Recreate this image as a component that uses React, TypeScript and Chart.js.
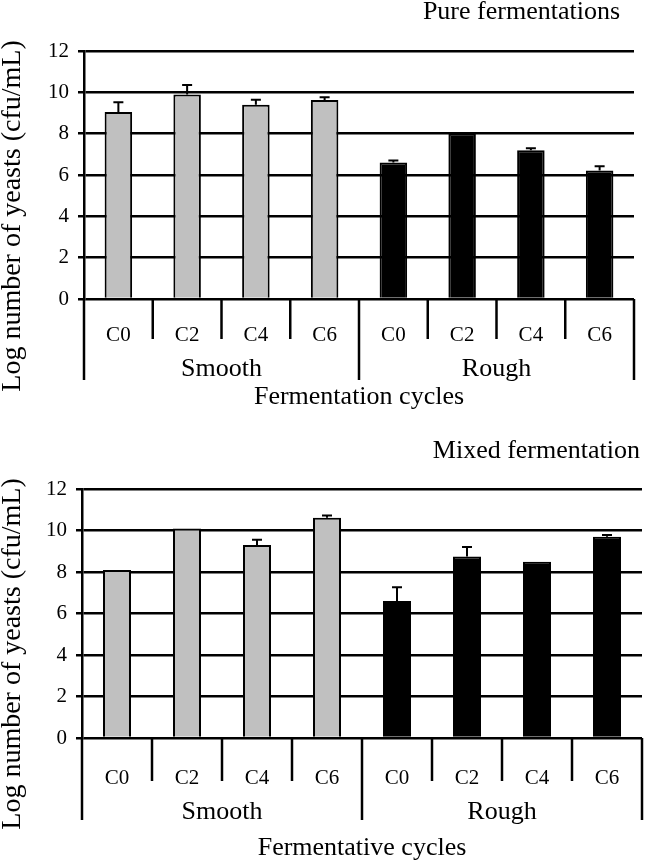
import React, { useEffect, useRef } from 'react';
import { Chart, registerables } from 'chart.js';

Chart.register(...registerables);

const categories = ['C0', 'C2', 'C4', 'C6', 'C0', 'C2', 'C4', 'C6'];
const groups = ['Smooth', 'Rough'];
const yTicks = [0, 2, 4, 6, 8, 10, 12];

const pureValues = [9.05, 9.9, 9.4, 9.63, 6.6, 8.0, 7.2, 6.22];
const pureErrors = [0.47, 0.45, 0.24, 0.13, 0.1, 0, 0.1, 0.2];

const mixedValues = [8.1, 10.1, 9.3, 10.62, 6.6, 8.75, 8.5, 9.7];
const mixedErrors = [0, 0, 0.26, 0.1, 0.67, 0.45, 0, 0.08];

const barColors = ['#c0c0c0', '#c0c0c0', '#c0c0c0', '#c0c0c0', '#000000', '#000000', '#000000', '#000000'];

const FONT = '"Liberation Serif", "Times New Roman", serif';
const LINE = 2.5;

interface Cfg {
  values: number[];
  errors: number[];
  title: string;
  xTitle: string;
  yTitle: string;
  padTop: number;
  padRight: number;
  yWidth: number;
  xHeight: number;
  xTickPad: number;
  shortLen: number;
  longLen: number;
  groupBase: number;
  xTitleBase: number;
  titleRight: number;
  titleBase: number;
}

function build(canvas: HTMLCanvasElement, c: Cfg) {
  const decor = {
    id: 'decor',
    afterDatasetsDraw(chart: any) {
      const { ctx, chartArea } = chart;
      const x = chart.scales.x;
      const y = chart.scales.y;
      ctx.save();
      ctx.strokeStyle = '#000';
      ctx.lineWidth = 2;
      // error bars (upper only)
      c.values.forEach((v, i) => {
        const e = c.errors[i];
        if (!e) return;
        const cx = x.getPixelForValue(i);
        const y0 = y.getPixelForValue(v);
        const y1 = y.getPixelForValue(v + e);
        ctx.beginPath();
        ctx.moveTo(cx, y0);
        ctx.lineTo(cx, y1);
        ctx.moveTo(cx - 5, y1);
        ctx.lineTo(cx + 5, y1);
        ctx.stroke();
      });
      // category dividers
      ctx.lineWidth = LINE;
      const zero = chartArea.bottom;
      for (let b = 0; b <= categories.length; b++) {
        const bx = x.getPixelForValue(b - 0.5);
        const isLong = b % 4 === 0;
        ctx.beginPath();
        ctx.moveTo(bx, zero);
        ctx.lineTo(bx, zero + (isLong ? c.longLen : c.shortLen));
        ctx.stroke();
      }
      // group labels
      ctx.fillStyle = '#000';
      ctx.font = `26px ${FONT}`;
      ctx.textAlign = 'center';
      ctx.textBaseline = 'alphabetic';
      groups.forEach((g, gi) => {
        const gx = (x.getPixelForValue(gi * 4 - 0.5) + x.getPixelForValue(gi * 4 + 3.5)) / 2;
        ctx.fillText(g, gx, zero + c.groupBase);
      });
      // x title
      ctx.fillText(c.xTitle, (chartArea.left + chartArea.right) / 2, c.xTitleBase);
      // chart title
      ctx.textAlign = 'right';
      ctx.fillText(c.title, c.titleRight, c.titleBase);
      // y title
      ctx.save();
      ctx.font = `28px ${FONT}`;
      ctx.translate(13, chartArea.top + 165);
      ctx.rotate(-Math.PI / 2);
      ctx.textAlign = 'center';
      ctx.textBaseline = 'middle';
      ctx.fillText(c.yTitle, 0, 0);
      ctx.restore();
      ctx.restore();
    },
  };

  return new Chart(canvas, {
    type: 'bar',
    data: {
      labels: categories,
      datasets: [
        {
          data: c.values,
          backgroundColor: barColors,
          borderColor: '#000',
          borderWidth: 2,
          barPercentage: 0.4,
          categoryPercentage: 1,
        },
      ],
    },
    options: {
      responsive: false,
      animation: false,
      devicePixelRatio: 1,
      layout: { padding: { top: c.padTop, right: c.padRight, left: 0, bottom: 0 } },
      plugins: { legend: { display: false }, tooltip: { enabled: false }, title: { display: false } },
      scales: {
        x: {
          type: 'category',
          offset: true,
          grid: { display: false },
          border: { display: false },
          ticks: {
            color: '#000',
            font: { family: FONT, size: 21 },
            padding: c.xTickPad,
            maxRotation: 0,
            autoSkip: false,
          },
          afterFit(s: any) {
            s.height = c.xHeight;
          },
        },
        y: {
          min: 0,
          max: 12,
          afterBuildTicks(s: any) {
            s.ticks = yTicks.map((v) => ({ value: v }));
          },
          ticks: {
            color: '#000',
            font: { family: FONT, size: 21 },
            padding: 9,
          },
          grid: { color: '#000', lineWidth: LINE, tickLength: 6, drawTicks: true },
          border: { display: true, color: '#000', width: LINE },
          afterFit(s: any) {
            s.width = c.yWidth;
          },
        },
      },
    },
    plugins: [decor],
  } as any);
}

export default function App() {
  const r1 = useRef<HTMLCanvasElement>(null);
  const r2 = useRef<HTMLCanvasElement>(null);

  useEffect(() => {
    document.body.style.margin = '0';
    const c1 = build(r1.current!, {
      values: pureValues,
      errors: pureErrors,
      title: 'Pure fermentations',
      xTitle: 'Fermentation cycles',
      yTitle: 'Log number of yeasts (cfu/mL)',
      padTop: 51,
      padRight: 11,
      yWidth: 84,
      xHeight: 121,
      xTickPad: 16,
      shortLen: 40,
      longLen: 81,
      groupBase: 77,
      xTitleBase: 404,
      titleRight: 620,
      titleBase: 19,
    });
    const c2 = build(r2.current!, {
      values: mixedValues,
      errors: mixedErrors,
      title: 'Mixed fermentation',
      xTitle: 'Fermentative cycles',
      yTitle: 'Log number of yeasts (cfu/mL)',
      padTop: 69,
      padRight: 3,
      yWidth: 82,
      xHeight: 126,
      xTickPad: 20,
      shortLen: 43,
      longLen: 82,
      groupBase: 81,
      xTitleBase: 435,
      titleRight: 640,
      titleBase: 38,
    });
    return () => {
      c1.destroy();
      c2.destroy();
    };
  }, []);

  return (
    <div style={{ width: 645, background: '#fff' }}>
      <canvas ref={r1} width={645} height={420} style={{ display: 'block' }} />
      <canvas ref={r2} width={645} height={444} style={{ display: 'block' }} />
    </div>
  );
}
